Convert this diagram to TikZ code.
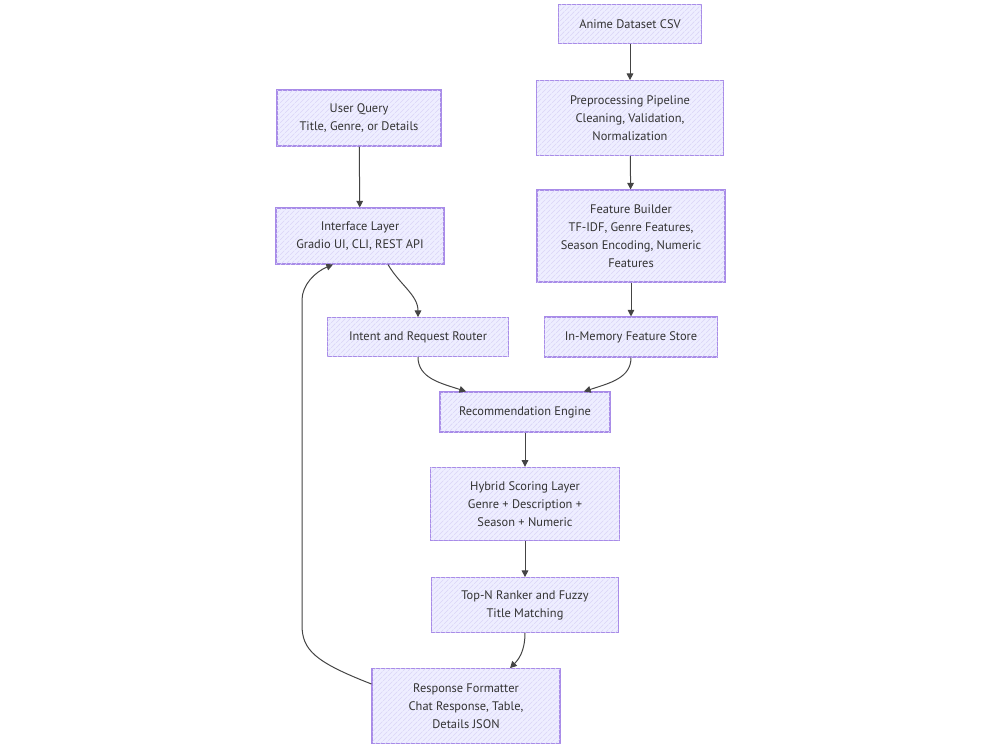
\documentclass[tikz,border=0pt]{standalone}
\usepackage{fontspec}
\setmainfont{PT Sans}
\usetikzlibrary{arrows.meta,patterns.meta}
\definecolor{boxfill}{HTML}{EEEEFF}
\definecolor{boxline}{HTML}{A88BE8}
\definecolor{hatch}{HTML}{DAD5F7}
\definecolor{txt}{HTML}{333333}
\definecolor{edge}{HTML}{444444}
\tikzdeclarepattern{
  name=sparsehatch, type=uncolored,
  bounding box={(0,0) and (3.5pt,3.5pt)}, tile size={(3.5pt,3.5pt)},
  code={\draw[line width=0.5pt] (0,0) -- (3.5pt,3.5pt);}
}
\tikzset{
  box/.style={draw=boxline, line width=0.8pt, fill=boxfill, text=txt,
    font=\fontsize{9.3}{13.5}\selectfont, align=center, inner sep=0pt,
    postaction={pattern=sparsehatch, pattern color=hatch}},
  link/.style={draw=edge, line width=0.75pt, -{Triangle[width=5pt,length=5pt]}}
}
\begin{document}
\begin{tikzpicture}[x=0.75pt,y=-0.75pt]
\useasboundingbox (0,0) rectangle (1000,750);
\node[box, minimum width=107pt, minimum height=29pt] (csv) at (630,24) {Anime Dataset CSV};
\node[box, minimum width=140pt, minimum height=56pt] (prep) at (630,118) {Preprocessing Pipeline\\Cleaning, Validation,\\Normalization};
\node[box, minimum width=141pt, minimum height=69pt] (feat) at (631,236) {Feature Builder\\TF-IDF, Genre Features,\\Season Encoding, Numeric\\Features};
\node[box, minimum width=130pt, minimum height=30pt] (store) at (631,337) {In-Memory Feature Store};
\node[box, minimum width=123pt, minimum height=42pt] (user) at (359,118) {User Query\\Title, Genre, or Details};
\node[box, minimum width=126pt, minimum height=42pt] (iface) at (360,236) {Interface Layer\\Gradio UI, CLI, REST API};
\node[box, minimum width=136pt, minimum height=29pt] (router) at (418,337) {Intent and Request Router};
\node[box, minimum width=127.5pt, minimum height=30pt] (engine) at (525,412) {Recommendation Engine};
\node[box, minimum width=142pt, minimum height=55pt] (hybrid) at (525,504) {Hybrid Scoring Layer\\Genre + Description +\\Season + Numeric};
\node[box, minimum width=140pt, minimum height=41pt] (topn) at (525,605) {Top-N Ranker and Fuzzy\\Title Matching};
\node[box, minimum width=141pt, minimum height=56pt] (resp) at (466,706) {Response Formatter\\Chat Response, Table,\\Details JSON};

\draw[link] (csv) -- (prep);
\draw[link] (prep) -- (feat);
\draw[link] (feat) -- (store);
\draw[link] (user) -- (iface);
\draw[link] ([xshift=21pt]iface.south) .. controls (400,285) and (418,295) .. (router.north);
\draw[link] (router.south) .. controls (418,378) and (440,383) .. ([xshift=-44.25pt]engine.north);
\draw[link] (store.south) .. controls (631,378) and (610,383) .. ([xshift=44.25pt]engine.north);
\draw[link] (engine) -- (hybrid);
\draw[link] (hybrid) -- (topn);
\draw[link] (topn.south) .. controls (525,652) and (518,660) .. ([xshift=33pt]resp.north);
\draw[link] ([yshift=16.5pt]resp.west) .. controls (315,662) and (302,650) .. (302,625)
  -- (302,300) .. controls (302,285) and (315,272) .. ([xshift=-20.25pt]iface.south);
\end{tikzpicture}
\end{document}
